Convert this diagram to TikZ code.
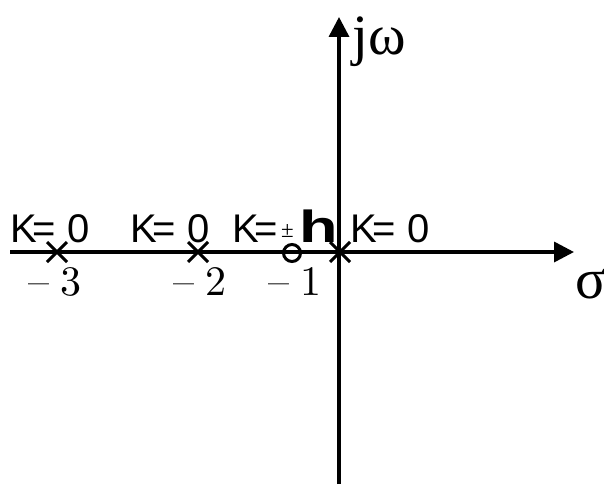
\documentclass[tikz,border=0pt]{standalone}
\usepackage{fontspec}
\newfontfamily\lsans{Liberation Sans}
\newfontfamily\lserif{Liberation Serif}
\usetikzlibrary{arrows.meta}
\tikzset{
  axisline/.style={line width=3.5pt,-{Triangle[length=20pt,width=20pt]}},
  polemark/.style={line width=3pt},
  klabel/.style={anchor=base west,inner sep=0pt,font=\lsans\fontsize{40}{40}\selectfont},
  numlabel/.style={anchor=base west,inner sep=0pt},
  axlabel/.style={anchor=base west,inner sep=0pt,font=\lserif\fontsize{57}{57}\selectfont}
}
\newcommand{\negnum}[1]{\scalebox{4.2}{\fontsize{10}{10}\selectfont –\hspace{2.6pt}#1}}
\begin{document}
\begin{tikzpicture}[x=1pt,y=-1pt]
\useasboundingbox[fill=white] (0,0) rectangle (604,484);
% axes
\coordinate (hl) at (10,252);
\coordinate (hr) at (574,252);
\coordinate (vb) at (339,484);
\coordinate (vt) at (339,17);
\draw[axisline] (hl) -- (hr);
\draw[axisline] (vb) -- (vt);
% axis labels
\node[axlabel] (jw) at (352,55) {jω};
\node[axlabel] (sig) at (575,298) {σ};
% markers
\coordinate (p3) at (57,252);
\coordinate (p2) at (198,252);
\coordinate (p0) at (340,252);
\coordinate (z1) at (292,253);
\foreach \p in {p3,p2,p0}{
  \draw[polemark] ([shift={(-10,-10)}]\p) -- ([shift={(10,10)}]\p);
  \draw[polemark] ([shift={(-10,10)}]\p) -- ([shift={(10,-10)}]\p);
}
\draw[polemark] (z1) circle[radius=8.5];
% K labels
\node[klabel] (k1) at (232,242) {K\kern-4pt=\kern3pt\raisebox{5pt}{\lserif\fontsize{23}{23}\selectfont ±}\kern6pt\scalebox{1.4}[1]{\bfseries\fontsize{45}{45}\selectfont h}};
\node[klabel] (k3) at (10,242) {K\kern-4pt= 0};
\node[klabel] (k2) at (130,242) {K\kern-4pt= 0};
\node[klabel] (k0) at (350,242) {K\kern-4pt= 0};
% numbers
\node[numlabel] (n3) at (28,295) {\negnum{3}};
\node[numlabel] (n2) at (173,295) {\negnum{2}};
\node[numlabel] (n1) at (268,295) {\negnum{1}};
\end{tikzpicture}
\end{document}
